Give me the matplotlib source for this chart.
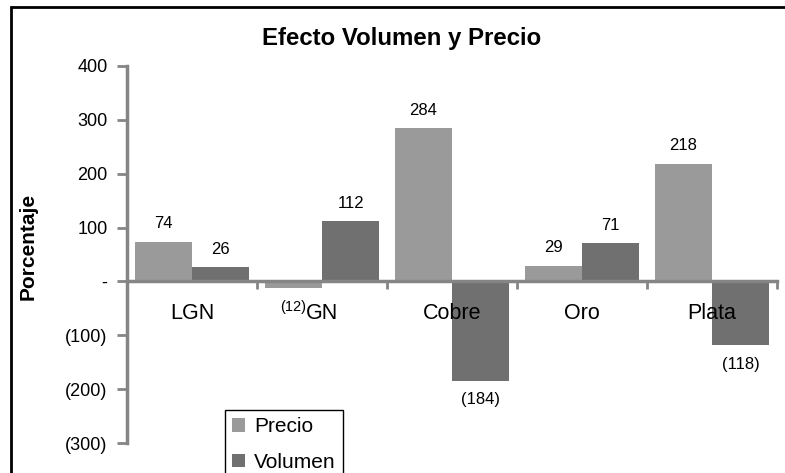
import numpy as np
import matplotlib
matplotlib.use('Agg')
import matplotlib.pyplot as plt
from matplotlib.patches import Rectangle

plt.rcParams['font.family'] = ['Liberation Sans', 'DejaVu Sans']

categorias = ['LGN', 'GN', 'Cobre', 'Oro', 'Plata']
precio = [74, -12, 284, 29, 218]
volumen = [26, 112, -184, 71, -118]
yticks = [-300, -200, -100, 0, 100, 200, 300, 400]

c_precio = '#9a9a9b'
c_volumen = '#707071'
c_axis = '#858585'

def fmt(v):
    if v == 0:
        return '-'
    if v < 0:
        return '(%d)' % abs(v)
    return '%d' % v

fig = plt.figure(figsize=(7.85, 4.73), dpi=100)
ax = fig.add_axes([127 / 785, 30 / 473, 650 / 785, 377 / 473])

x = np.arange(len(categorias))
w = 0.44
b1 = ax.bar(x - w / 2, precio, w, color=c_precio, label='Precio', zorder=2)
b2 = ax.bar(x + w / 2, volumen, w, color=c_volumen, label='Volumen', zorder=2)

# etiquetas de datos
for bars, vals in [(b1, precio), (b2, volumen)]:
    for rect, v in zip(bars, vals):
        cx = rect.get_x() + rect.get_width() / 2
        if v >= 0:
            ax.annotate(fmt(v), (cx, v), xytext=(0, 13), textcoords='offset points',
                        ha='center', va='center', fontsize=12)
        else:
            size = 10.5 if abs(v) < 50 else 12
            ax.annotate(fmt(v), (cx, v), xytext=(0, -14), textcoords='offset points',
                        ha='center', va='center', fontsize=size)

ax.set_xlim(-0.5, len(categorias) - 0.5)
ax.set_ylim(-300, 400)
ax.set_yticks(yticks)
ax.set_yticklabels([fmt(v) for v in yticks], fontsize=13)

# categorias debajo de la linea de cero
ax.set_xticks(np.arange(-0.5, len(categorias), 1.0))
ax.set_xticklabels([])
ax.tick_params(axis='x', direction='out', length=6, width=2, color=c_axis)
ax.tick_params(axis='y', direction='out', length=7, width=2, color=c_axis, pad=7)
for i, c in enumerate(categorias):
    ax.annotate(c, (i, 0), xytext=(0, -23), textcoords='offset points',
                ha='center', va='center', fontsize=15.5, zorder=3)

for s in ['top', 'right']:
    ax.spines[s].set_visible(False)
ax.spines['bottom'].set_position(('data', 0))
ax.spines['bottom'].set_color(c_axis)
ax.spines['bottom'].set_linewidth(2.5)
ax.spines['bottom'].set_zorder(3)
ax.spines['left'].set_color(c_axis)
ax.spines['left'].set_linewidth(2.5)

fig.text(402 / 785, 1 - 38 / 473, 'Efecto Volumen y Precio', ha='center', va='center',
         fontsize=17.3, fontweight='bold')
fig.text(28 / 785, 1 - 246 / 473, 'Porcentaje', rotation=90, ha='center', va='center',
         fontsize=15, fontweight='bold')

fig.legend(loc='upper left', bbox_to_anchor=(225 / 785, 1 - 410 / 473), fontsize=15,
           frameon=True, fancybox=False, edgecolor='black', framealpha=1,
           handlelength=0.6, handleheight=0.6, handletextpad=0.45, borderpad=0.35,
           labelspacing=0.8, borderaxespad=0)

# marco exterior
fig.patches.append(Rectangle((11 / 785, -0.1), 1.0, 1 - 7 / 473 + 0.1, transform=fig.transFigure,
                             fill=False, edgecolor='black', linewidth=2, zorder=0))

fig.savefig('out.png', dpi=100)
